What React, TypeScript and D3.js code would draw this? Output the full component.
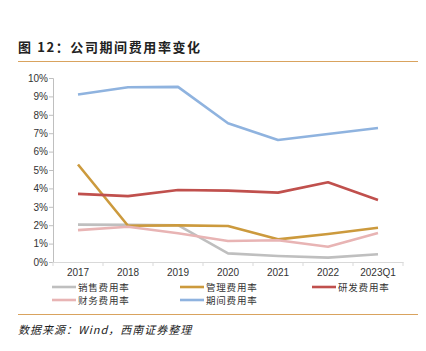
import * as d3 from "d3";
import React, { useEffect, useRef } from "react";

const years = ["2017", "2018", "2019", "2020", "2021", "2022", "2023Q1"];
const yTicks = [0, 1, 2, 3, 4, 5, 6, 7, 8, 9, 10];

const seriesNames = ["销售费用率", "管理费用率", "研发费用率", "财务费用率", "期间费用率"];
const seriesColors = ["#BFBFBF", "#CC9A3D", "#C0504D", "#E8B4B4", "#8FB3DF"];

const sales = [2.03, 2.02, 2.0, 0.47, 0.33, 0.24, 0.42];
const admin = [5.3, 1.97, 1.99, 1.96, 1.23, 1.52, 1.86];
const rnd = [3.7, 3.58, 3.91, 3.88, 3.77, 4.33, 3.37];
const finance = [1.73, 1.92, 1.56, 1.14, 1.18, 0.83, 1.58];
const period = [9.1, 9.5, 9.52, 7.54, 6.63, 6.96, 7.28];

const allSeries = [sales, admin, rnd, finance, period];

const App: React.FC = () => {
  const svgRef = useRef<SVGSVGElement>(null);

  useEffect(() => {
    const svg = d3.select(svgRef.current);
    svg.selectAll("*").remove();

    const W = 426;
    const H = 351;
    svg.attr("width", W).attr("height", H).style("background", "#fff");

    const latin = "'Liberation Sans', Arial, sans-serif";
    const cjk = "'Noto Sans CJK SC', sans-serif";

    // title
    svg
      .append("text")
      .attr("x", 18)
      .attr("y", 52)
      .attr("font-family", cjk)
      .attr("font-weight", "bold")
      .attr("font-size", 13)
      .attr("letter-spacing", 1.6)
      .attr("fill", "#222")
      .text("图 12：公司期间费用率变化");

    svg.append("line").attr("x1", 18).attr("x2", 418).attr("y1", 61.5).attr("y2", 61.5)
      .attr("stroke", "#D9A35E").attr("stroke-width", 1.2);

    const x = d3.scaleBand().domain(years).range([53, 403]);
    const y = d3.scaleLinear().domain([0, 10]).range([262, 78]);

    const g = svg.append("g");

    // y axis
    const yAxis = d3.axisLeft(y).tickValues(yTicks).tickSize(4).tickFormat((d) => `${d}%`);
    const ya = g.append("g").attr("transform", "translate(53,0)").call(yAxis);
    ya.select(".domain").attr("stroke", "#BFBFBF");
    ya.selectAll(".tick line").attr("stroke", "#BFBFBF");
    ya.selectAll("text").attr("font-family", latin).attr("font-size", 10).attr("fill", "#333").attr("x", -5);

    // x axis
    const xa = g.append("g").attr("transform", "translate(0,262)").call(d3.axisBottom(x).tickSize(0).tickSizeOuter(0));
    xa.select(".domain").attr("stroke", "#D9D9D9");
    xa.selectAll("text").attr("font-family", latin).attr("font-size", 10).attr("fill", "#333").attr("dy", "1.1em");
    const bounds = years.map((yr) => x(yr)!).concat([x.range()[1]]);
    g.selectAll(".xt").data(bounds).enter().append("line")
      .attr("x1", (d) => d).attr("x2", (d) => d).attr("y1", 262).attr("y2", 266)
      .attr("stroke", "#D9D9D9");

    const line = d3.line<number>()
      .x((_, i) => x(years[i])! + x.bandwidth() / 2)
      .y((d) => y(d));

    allSeries.forEach((s, i) => {
      g.append("path").datum(s).attr("d", line).attr("fill", "none")
        .attr("stroke", seriesColors[i]).attr("stroke-width", 2.6).attr("stroke-linejoin", "round");
    });

    // legend
    const legendPos = [
      [52, 287], [180, 287], [312, 287],
      [52, 300], [180, 300],
    ];
    seriesNames.forEach((name, i) => {
      const [lx, ly] = legendPos[i];
      svg.append("line").attr("x1", lx).attr("x2", lx + 24).attr("y1", ly).attr("y2", ly)
        .attr("stroke", seriesColors[i]).attr("stroke-width", 2.6);
      svg.append("text").attr("x", lx + 26).attr("y", ly + 3.5)
        .attr("font-family", cjk).attr("font-size", 9.5).attr("letter-spacing", 0.8)
        .attr("fill", "#333").text(name);
    });

    svg.append("line").attr("x1", 18).attr("x2", 418).attr("y1", 314.5).attr("y2", 314.5)
      .attr("stroke", "#D9A35E").attr("stroke-width", 1.2);

    svg.append("text").attr("x", 18).attr("y", 334)
      .attr("font-family", cjk).attr("font-style", "italic").attr("font-size", 11)
      .attr("letter-spacing", 1).attr("fill", "#222")
      .text("数据来源：Wind，西南证券整理");
  }, []);

  return (
    <div style={{ position: "absolute", left: 0, top: 0 }}>
      <svg ref={svgRef}></svg>
    </div>
  );
};

export default App;
